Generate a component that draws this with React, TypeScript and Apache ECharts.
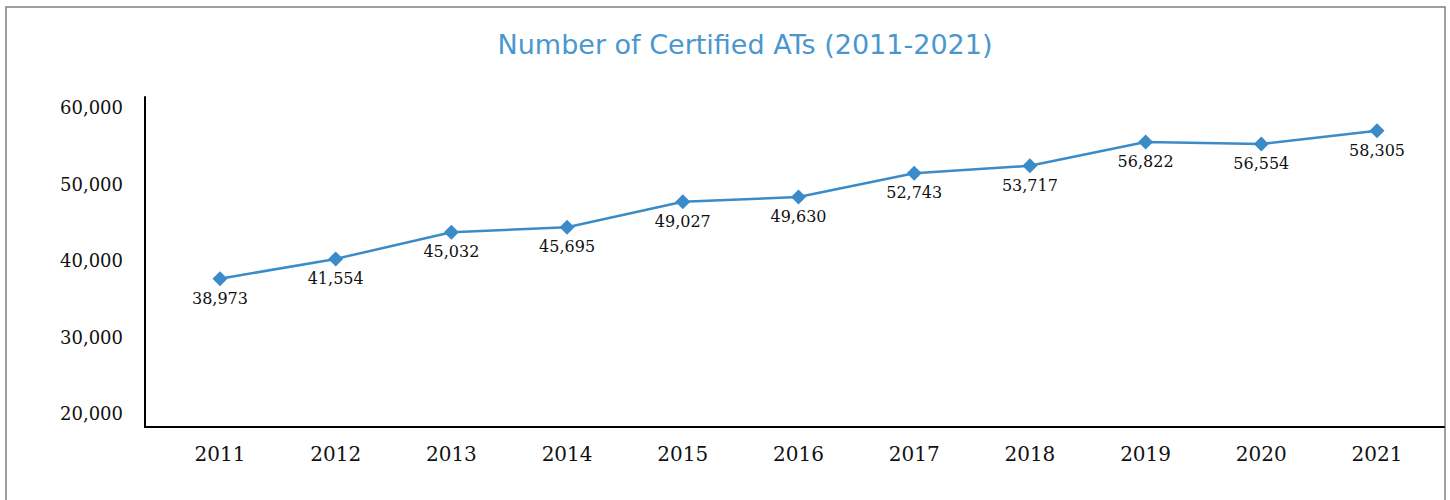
import React, { useEffect, useRef } from "react";
import * as echarts from "echarts";

const years = [2011, 2012, 2013, 2014, 2015, 2016, 2017, 2018, 2019, 2020, 2021];
const certified = [38973, 41554, 45032, 45695, 49027, 49630, 52743, 53717, 56822, 56554, 58305];
const yTicks = [20000, 30000, 40000, 50000, 60000];
const titleText = "Number of Certified ATs (2011-2021)";

const fmt = (v: number) => v.toLocaleString("en-US");

export default function App() {
  const ref = useRef<HTMLDivElement>(null);
  useEffect(() => {
    document.body.style.margin = "0";
    const chart = echarts.init(ref.current!, null, { renderer: "svg" });
    chart.setOption({
      animation: false,
      backgroundColor: "#ffffff",
      title: {
        text: titleText,
        left: 740,
        top: 26,
        textAlign: "center",
        textStyle: {
          fontFamily: "DejaVu Sans",
          fontWeight: "normal",
          fontSize: 27,
          color: "#4a97cf",
        },
      },
      graphic: [
        {
          type: "rect",
          shape: { x: 6, y: 7, width: 1439, height: 520 },
          style: { fill: "none", stroke: "#808080", lineWidth: 1.5 },
          silent: true,
        },
      ],
      grid: { left: 145, right: 6, top: 97, bottom: 73 },
      xAxis: {
        type: "value",
        min: 2010.352,
        max: 2021.579,
        splitLine: { show: false },
        axisTick: { show: false },
        axisLine: { show: true, lineStyle: { color: "#000", width: 2 } },
        axisLabel: {
          customValues: years,
          formatter: (v: number) => String(v),
          fontFamily: "DejaVu Serif",
          fontSize: 20,
          color: "#111",
          margin: 17,
        },
      },
      yAxis: {
        type: "value",
        min: 19600,
        max: 62700,
        splitLine: { show: false },
        axisTick: { show: false },
        axisLine: { show: true, lineStyle: { color: "#000", width: 2 } },
        axisLabel: {
          customValues: yTicks,
          formatter: (v: number) => fmt(v),
          fontFamily: "DejaVu Serif",
          fontSize: 18,
          color: "#111",
          margin: 22,
          verticalAlign: "bottom",
          lineHeight: 20,
        },
      },
      series: [
        {
          type: "line",
          data: years.map((y, i) => [y, certified[i]]),
          symbol: "diamond",
          symbolSize: 15,
          lineStyle: { color: "#3b8bc9", width: 2.5 },
          itemStyle: { color: "#3b8bc9" },
          label: {
            show: true,
            position: "bottom",
            distance: 4,
            formatter: (p: any) => fmt(p.value[1]),
            fontFamily: "DejaVu Serif",
            fontSize: 16,
            color: "#111",
          },
        },
      ],
    });
    return () => chart.dispose();
  }, []);
  return <div ref={ref} style={{ width: 1450, height: 500 }} />;
}
